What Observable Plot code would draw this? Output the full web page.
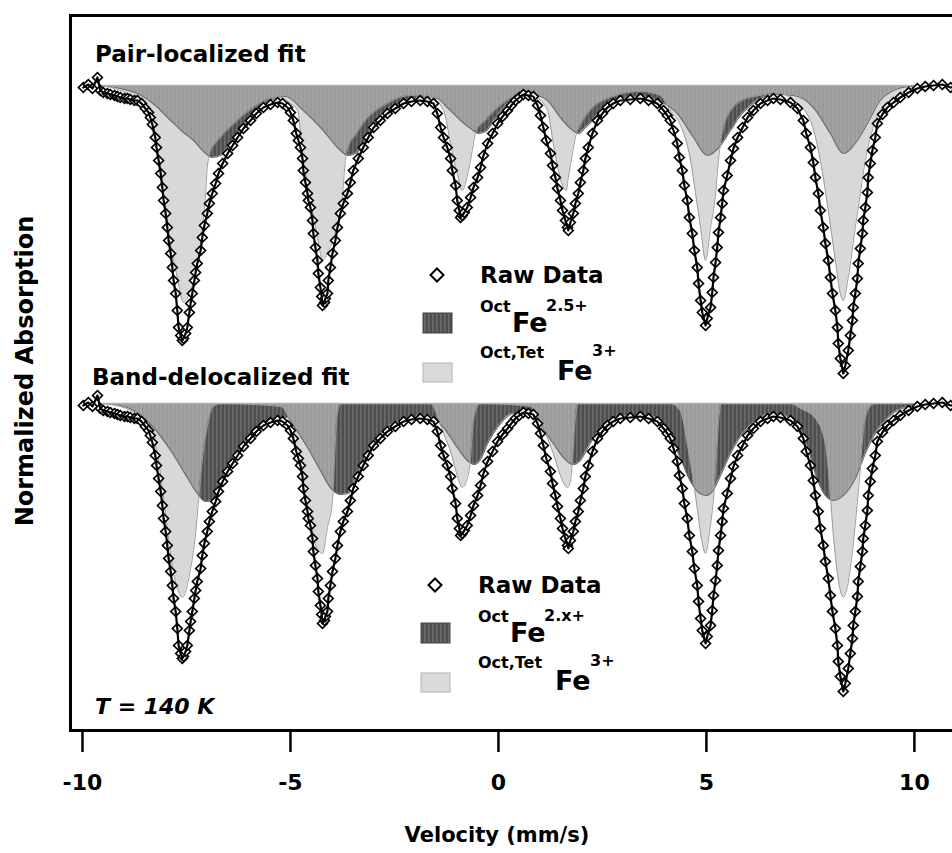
<!DOCTYPE html>
<html>
<head>
<meta charset="utf-8">
<script src="https://cdn.jsdelivr.net/npm/d3@7"></script>
<script src="https://cdn.jsdelivr.net/npm/@observablehq/plot@0.6"></script>
<style>
  html, body { margin: 0; padding: 0; overflow: hidden; background: #fff; width: 952px; height: 853px; }
  #chart svg { display: block; max-width: none !important; }
</style>
</head>
<body>
<svg width="0" height="0" style="position:absolute">
  <defs>
    <pattern id="fe25stripes" patternUnits="userSpaceOnUse" width="4" height="8">
      <rect width="4" height="8" fill="#4e4e4e"></rect>
      <rect width="1.6" height="8" fill="#6a6a6a"></rect>
    </pattern>
  </defs>
</svg>
<div id="chart"></div>
<script>
// ---------- data (velocity in mm/s, absorption in arbitrary units, dips positive) ----------
const xTicks = [-10, -5, 0, 5, 10];

// Raw Mössbauer data [velocity, absorption] (same raw spectrum shown under both fits)
const rawSpectrum = [
  [-9.98,0.10],[-9.86,-0.05],[-9.76,0.15],[-9.64,-0.40],[-9.57,0.25],[-9.50,0.35],[-9.40,0.40],[-9.33,0.45],[-9.23,0.50],[-9.16,0.55],
  [-9.09,0.60],[-8.99,0.65],[-8.92,0.65],[-8.85,0.70],[-8.75,0.75],[-8.68,0.75],[-8.58,0.90],[-8.49,1.15],[-8.41,1.35],[-8.37,1.60],
  [-8.32,1.95],[-8.25,2.60],[-8.22,3.10],[-8.17,3.75],[-8.12,4.40],[-8.08,5.10],[-8.05,5.75],[-8.00,6.40],[-7.96,7.10],[-7.93,7.75],
  [-7.88,8.40],[-7.84,9.10],[-7.81,9.75],[-7.76,10.40],[-7.72,11.25],[-7.69,12.10],[-7.64,12.50],[-7.60,12.75],[-7.57,12.65],[-7.52,12.40],
  [-7.48,12.10],[-7.43,11.35],[-7.40,10.90],[-7.36,10.40],[-7.31,9.75],[-7.28,9.35],[-7.24,8.90],[-7.16,8.25],[-7.12,7.60],[-7.07,7.00],
  [-7.00,6.40],[-6.95,5.90],[-6.88,5.40],[-6.80,4.90],[-6.73,4.40],[-6.63,3.90],[-6.51,3.40],[-6.39,3.00],[-6.27,2.60],[-6.13,2.15],
  [-5.96,1.75],[-5.82,1.40],[-5.65,1.10],[-5.48,0.95],[-5.31,0.85],[-5.19,0.90],[-5.07,1.10],[-5.00,1.35],[-4.93,1.75],[-4.86,2.40],
  [-4.81,2.75],[-4.76,3.10],[-4.71,3.65],[-4.69,4.25],[-4.64,4.85],[-4.59,5.40],[-4.57,5.75],[-4.52,6.10],[-4.47,6.75],[-4.45,7.40],
  [-4.40,8.10],[-4.35,8.75],[-4.33,9.40],[-4.28,10.10],[-4.25,10.55],[-4.23,11.00],[-4.18,10.85],[-4.16,10.65],[-4.11,10.40],[-4.09,9.75],
  [-4.04,9.10],[-3.99,8.40],[-3.92,7.75],[-3.87,7.10],[-3.80,6.40],[-3.73,5.90],[-3.63,5.40],[-3.56,4.85],[-3.49,4.25],[-3.37,3.65],
  [-3.25,3.10],[-3.13,2.60],[-3.00,2.10],[-2.84,1.75],[-2.67,1.40],[-2.48,1.15],[-2.28,0.90],[-2.09,0.80],[-1.88,0.75],[-1.71,0.80],
  [-1.56,0.90],[-1.47,1.40],[-1.39,2.10],[-1.32,2.60],[-1.23,3.10],[-1.15,3.65],[-1.11,4.25],[-1.03,5.00],[-0.99,5.75],[-0.94,6.25],
  [-0.91,6.60],[-0.87,6.50],[-0.82,6.35],[-0.75,6.10],[-0.67,5.60],[-0.60,5.10],[-0.50,4.60],[-0.43,4.10],[-0.36,3.50],[-0.26,2.90],
  [-0.14,2.40],[-0.02,1.90],[0.10,1.55],[0.22,1.25],[0.31,1.00],[0.41,0.75],[0.50,0.60],[0.60,0.45],[0.72,0.50],[0.84,0.55],
  [0.94,1.00],[1.01,1.50],[1.08,2.10],[1.15,2.75],[1.25,3.40],[1.30,4.00],[1.37,4.60],[1.42,5.15],[1.49,5.75],[1.54,6.25],
  [1.61,6.75],[1.66,7.10],[1.68,7.25],[1.73,6.85],[1.80,6.40],[1.85,5.90],[1.92,5.40],[1.97,4.85],[2.04,4.25],[2.09,3.65],
  [2.16,3.10],[2.26,2.40],[2.38,1.75],[2.50,1.40],[2.62,1.10],[2.76,0.90],[2.93,0.75],[3.17,0.70],[3.41,0.65],[3.61,0.75],
  [3.82,0.90],[3.97,1.25],[4.06,1.50],[4.13,1.75],[4.21,2.25],[4.30,2.90],[4.35,3.60],[4.42,4.25],[4.47,5.00],[4.54,5.75],
  [4.59,6.60],[4.66,7.40],[4.71,8.25],[4.78,9.10],[4.81,9.90],[4.86,10.75],[4.90,11.35],[4.98,12.00],[5.02,11.65],[5.10,11.10],
  [5.14,10.35],[5.17,9.60],[5.22,8.85],[5.26,8.10],[5.29,7.35],[5.34,6.60],[5.38,5.90],[5.41,5.25],[5.50,4.50],[5.58,3.75],
  [5.65,3.15],[5.75,2.60],[5.87,2.10],[5.99,1.60],[6.13,1.25],[6.30,0.90],[6.47,0.75],[6.61,0.65],[6.78,0.70],[7.02,0.85],
  [7.19,1.15],[7.33,1.75],[7.40,2.40],[7.50,3.10],[7.57,3.85],[7.62,4.60],[7.69,5.40],[7.74,6.25],[7.81,7.10],[7.86,7.90],
  [7.93,8.75],[7.98,9.60],[8.03,10.40],[8.10,11.25],[8.15,12.10],[8.17,12.90],[8.22,13.65],[8.29,14.40],[8.34,14.00],[8.41,13.25],
  [8.46,12.50],[8.51,11.75],[8.53,11.10],[8.58,10.40],[8.63,9.65],[8.65,8.90],[8.70,8.15],[8.75,7.40],[8.77,6.75],[8.82,6.10],
  [8.87,5.35],[8.89,4.60],[8.94,3.90],[8.99,3.25],[9.06,2.60],[9.11,1.90],[9.23,1.45],[9.35,1.10],[9.50,0.85],[9.66,0.60],
  [9.86,0.35],[10.07,0.15],[10.26,0.05],[10.46,0.00],[10.67,-0.05],[10.87,0.10],[11.06,0.05],[11.23,0.00]
];

// Pair-localized fit components [velocity, absorption]
const pairFe3 = [[-9.57,0],[-9.09,0.25],[-8.68,0.75],[-8.41,1.6],[-8.25,2.9],[-8.12,4.6],[-8.00,6.25],[-7.88,7.9],[-7.72,9.6],[-7.57,10.85],[-7.52,10.75],[-7.36,10.0],[-7.21,8.75],[-7.12,7.1],[-7.04,5.4],[-7.00,4.1],[-6.92,3.3],[-6.80,2.9],[-6.68,2.6],[-6.27,1.75],[-5.89,1.1],[-5.31,0.6],[-5.00,0.9],[-4.83,1.25],[-4.69,3.75],[-4.52,5.75],[-4.35,7.6],[-4.28,8.4],[-4.23,8.75],[-4.09,8.25],[-3.94,7.5],[-3.85,6.75],[-3.75,5.5],[-3.68,3.75],[-3.61,3.1],[-3.44,2.5],[-3.25,1.9],[-2.67,0.9],[-2.12,0.5],[-1.63,0.6],[-1.32,1.25],[-1.15,2.9],[-0.99,4.4],[-0.87,5.25],[-0.72,4.25],[-0.60,2.9],[-0.55,2.35],[-0.31,1.75],[0.05,1.0],[0.53,0.5],[0.89,0.6],[1.18,1.25],[1.32,2.9],[1.44,4.25],[1.56,5.1],[1.63,5.25],[1.68,4.6],[1.78,3.4],[1.85,2.6],[1.97,2.0],[2.21,1.25],[2.69,0.6],[3.41,0.3],[3.89,0.5],[4.13,1.25],[4.38,2.0],[4.62,3.75],[4.74,5.4],[4.86,7.1],[4.98,8.75],[5.10,7.1],[5.22,5.4],[5.29,3.75],[5.38,2.4],[5.65,1.1],[6.06,0.6],[6.78,0.4],[7.09,0.75],[7.50,1.75],[7.74,3.75],[7.93,6.25],[8.10,8.75],[8.22,10.4],[8.29,10.75],[8.41,9.6],[8.58,7.1],[8.70,5.4],[8.82,3.75],[8.94,2.6],[9.18,1.25],[9.66,0.5],[10.38,0.15],[10.6,0]];
const pairFe25 = [[-9.57,0],[-9.09,0.15],[-8.68,0.4],[-8.25,1.0],[-7.88,1.75],[-7.60,2.3],[-7.33,2.75],[-7.09,3.3],[-6.88,3.6],[-6.68,3.5],[-6.44,2.9],[-6.20,2.25],[-5.96,1.55],[-5.65,0.95],[-5.31,0.6],[-5.12,0.55],[-4.69,1.25],[-4.21,2.25],[-3.87,3.1],[-3.61,3.5],[-3.37,3.3],[-3.13,2.4],[-2.84,1.5],[-2.48,1.0],[-2.12,0.7],[-1.75,0.6],[-1.47,0.65],[-1.23,1.1],[-0.91,1.75],[-0.67,2.15],[-0.48,2.4],[-0.31,2.3],[-0.07,1.65],[0.17,1.0],[0.41,0.65],[0.65,0.5],[0.89,0.5],[1.18,0.75],[1.49,1.6],[1.73,2.15],[1.92,2.4],[2.09,2.1],[2.26,1.75],[2.45,1.25],[2.74,0.85],[3.05,0.6],[3.41,0.55],[3.89,0.8],[4.30,1.4],[4.69,2.6],[5.02,3.5],[5.34,3.0],[5.58,2.25],[5.82,1.5],[6.06,1.0],[6.30,0.65],[6.66,0.45],[7.09,0.5],[7.57,1.1],[7.98,2.4],[8.29,3.4],[8.63,2.75],[8.87,1.9],[9.18,0.75],[9.50,0.25],[9.90,0.05],[10.6,0]];

// Band-delocalized fit components [velocity, absorption]
const bandFe3 = [[-9.57,0],[-9.09,0.15],[-8.85,0.35],[-8.61,0.7],[-8.37,1.5],[-8.20,2.5],[-8.05,4.75],[-7.93,6.75],[-7.81,8.5],[-7.69,9.4],[-7.60,9.7],[-7.40,8.25],[-7.28,6.5],[-7.21,4.85],[-7.12,2.85],[-7.00,1.2],[-6.88,0.25],[-6.68,0],[-5.24,0.15],[-5.00,1.0],[-4.83,2.5],[-4.69,4.25],[-4.57,5.75],[-4.45,6.75],[-4.33,7.35],[-4.23,7.5],[-4.11,6.2],[-3.99,4.85],[-3.94,2.85],[-3.89,0.85],[-3.80,0],[-1.63,0],[-1.39,1.1],[-1.27,1.75],[-1.15,2.4],[-0.99,3.6],[-0.87,4.2],[-0.75,3.75],[-0.67,2.75],[-0.63,1.5],[-0.55,0.4],[-0.43,0],[0.77,0.15],[0.94,0.75],[1.13,1.5],[1.32,2.5],[1.49,3.6],[1.66,4.2],[1.73,3.9],[1.80,2.25],[1.85,0.75],[1.92,0],[4.13,0],[4.38,0.4],[4.54,2.0],[4.66,3.5],[4.78,5.25],[4.88,6.75],[4.98,7.5],[5.07,6.5],[5.17,4.75],[5.24,2.75],[5.29,1.0],[5.36,0],[7.02,0],[7.26,0.25],[7.62,0.75],[7.86,2.0],[7.96,4.0],[8.03,6.0],[8.12,8.0],[8.22,9.35],[8.29,9.7],[8.39,9.15],[8.49,7.75],[8.58,6.0],[8.68,3.75],[8.77,1.5],[8.87,0.4],[9.06,0],[10.6,0]];
const bandFe2x = [[-9.57,0],[-9.09,0.1],[-8.92,0.2],[-8.29,1.2],[-7.88,2.35],[-7.48,3.7],[-7.24,4.5],[-7.04,4.9],[-6.85,4.85],[-6.61,3.9],[-6.37,2.9],[-5.89,1.5],[-5.48,0.9],[-5.07,0.7],[-4.93,1.1],[-4.59,2.2],[-4.28,3.35],[-4.04,4.2],[-3.80,4.55],[-3.61,4.5],[-3.44,3.75],[-3.25,2.9],[-3.00,2.0],[-2.67,1.2],[-2.28,0.8],[-1.71,0.6],[-1.32,1.2],[-0.99,2.2],[-0.75,2.85],[-0.58,3.05],[-0.43,2.8],[-0.26,2.0],[0.05,1.0],[0.36,0.5],[0.77,0.5],[1.01,1.1],[1.32,2.0],[1.56,2.7],[1.78,3.05],[1.97,2.85],[2.14,2.25],[2.33,1.6],[2.62,1.0],[2.93,0.65],[3.41,0.6],[3.65,0.6],[3.89,0.9],[4.13,1.6],[4.38,2.75],[4.62,3.9],[4.81,4.45],[4.98,4.6],[5.14,4.4],[5.34,3.6],[5.58,2.5],[5.82,1.65],[6.18,0.9],[6.54,0.5],[6.78,0.5],[7.02,0.75],[7.26,1.25],[7.45,2.25],[7.62,3.5],[7.86,4.6],[8.05,4.85],[8.29,4.6],[8.58,3.75],[8.82,2.5],[9.06,1.5],[9.42,0.6],[9.78,0.2],[10.6,0]];

const panelTitles = ["Pair-localized fit", "Band-delocalized fit"];
const temperatureLabel = "T = 140 K";
const xLabel = "Velocity (mm/s)";
const yLabel = "Normalized Absorption";

// ---------- layout ----------
const FONT = "'DejaVu Sans', 'Verdana', sans-serif";
const stackOffset = [0, -15.9];   // vertical stacking of the two panels

function spectrumMarks(fe3, fe25, off) {
  const X = d => d[0], Y = d => off - d[1];
  return [
    Plot.areaY(fe25, {x: X, y1: off, y2: Y, curve: "monotone-x", fill: "url(#fe25stripes)"}),
    Plot.areaY(fe3, {x: X, y1: off, y2: Y, curve: "monotone-x", fill: "#c4c4c4", fillOpacity: 0.66}),
    Plot.line(fe25, {x: X, y: Y, curve: "monotone-x", stroke: "#6e6e6e", strokeWidth: 1.2}),
    Plot.line(fe3, {x: X, y: Y, curve: "monotone-x", stroke: "#9c9c9c", strokeWidth: 1}),
    Plot.ruleY([{y: off, x1: d3.min(fe3, X), x2: d3.max(fe3, X)}], {y: "y", x1: "x1", x2: "x2", stroke: "#b0b0b0", strokeWidth: 1.5}),
    Plot.dot(rawSpectrum, {x: X, y: Y, symbol: "diamond2", r: 4.4, stroke: "black", strokeWidth: 1.7, fill: "white"}),
    Plot.line(rawSpectrum, {x: X, y: Y, stroke: "black", strokeWidth: 2.2})
  ];
}

const plot = Plot.plot({
  width: 1000,
  height: 853,
  marginLeft: 70,
  marginRight: 0,
  marginTop: 15,
  marginBottom: 123,
  x: {domain: [-10.288, 12.07]},
  y: {domain: [-32.25, 3.5], axis: null},
  style: {fontFamily: FONT, background: "white", overflow: "visible", maxWidth: "none"},
  marks: [
    ...spectrumMarks(pairFe3, pairFe25, stackOffset[0]),
    ...spectrumMarks(bandFe3, bandFe2x, stackOffset[1]),
    Plot.axisX(xTicks, {anchor: "bottom", tickSize: 22, tickPadding: 22, tickFormat: d => String(d),
      fontSize: 22, fontWeight: "bold", strokeWidth: 2.5, label: null}),
    Plot.frame({stroke: "black", strokeWidth: 3})
  ]
});
plot.style.maxWidth = "none";
document.getElementById("chart").appendChild(plot);

// ---------- annotations (titles, legends, axis labels) ----------
const svg = d3.select(plot);
const g = svg.append("g").attr("font-family", FONT).attr("fill", "black");
function txt(x, y, s, size, opts = {}) {
  const t = g.append("text").attr("x", x).attr("y", y).attr("font-size", size)
    .attr("font-weight", opts.weight || "bold").attr("font-style", opts.style || "normal")
    .attr("text-anchor", opts.anchor || "start").text(s);
  if (opts.transform) t.attr("transform", opts.transform);
  return t;
}
txt(95, 62, panelTitles[0], 23);
txt(92, 385, panelTitles[1], 23);
txt(95, 714, temperatureLabel, 22, {style: "italic"});
txt(497, 842, xLabel, 21, {anchor: "middle"});
txt(0, 0, yLabel, 24, {anchor: "middle", transform: "translate(33,371) rotate(-90)"});

function legend(x0, y0, superLabel) {
  const dx = x0 + 14, dy = y0;
  g.append("path").attr("d", `M${dx},${dy - 6.5}L${dx + 6.5},${dy}L${dx},${dy + 6.5}L${dx - 6.5},${dy}Z`)
    .attr("fill", "white").attr("stroke", "black").attr("stroke-width", 2);
  txt(x0 + 57, y0 + 8, "Raw Data", 23);
  g.append("rect").attr("x", x0).attr("y", y0 + 38).attr("width", 29).attr("height", 20)
    .attr("fill", "url(#fe25stripes)").attr("stroke", "#444").attr("stroke-width", 1);
  txt(x0 + 57, y0 + 37, "Oct", 16);
  txt(x0 + 89, y0 + 57, "Fe", 27);
  txt(x0 + 123, y0 + 36, superLabel, 16);
  g.append("rect").attr("x", x0).attr("y", y0 + 88).attr("width", 29).attr("height", 19)
    .attr("fill", "#d9d9d9").attr("stroke", "#bdbdbd").attr("stroke-width", 1.2);
  txt(x0 + 57, y0 + 83, "Oct,Tet", 16);
  txt(x0 + 134, y0 + 105, "Fe", 27);
  txt(x0 + 169, y0 + 81, "3+", 16);
}
legend(423, 275, "2.5+");
legend(421, 585, "2.x+");
</script>
</body>
</html>
